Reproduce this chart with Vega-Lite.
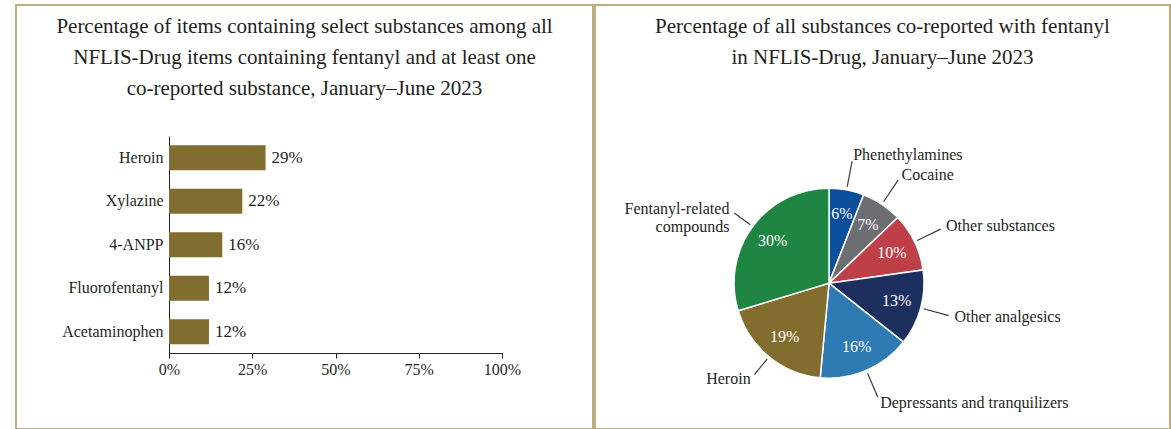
{
  "$schema": "https://vega.github.io/schema/vega-lite/v6.json",
  "padding": {"left": 15, "top": 4, "right": 4, "bottom": 1},
  "spacing": 0,
  "background": "white",
  "config": {
    "font": "Liberation Serif",
    "view": {"stroke": "#bcae80", "strokeWidth": 2},
    "title": {"font": "Liberation Serif", "fontSize": 21, "fontWeight": "normal", "color": "#231f20", "lineHeight": 31, "anchor": "middle", "frame": "group"},
    "axis": {"labelFont": "Liberation Serif", "labelFontSize": 16, "labelColor": "#231f20", "domainColor": "#231f20", "tickColor": "#231f20", "grid": false, "title": null}
  },
  "datasets": {
    "bars": [
      {"substance": "Heroin", "share": 0.29},
      {"substance": "Xylazine", "share": 0.22},
      {"substance": "4-ANPP", "share": 0.16},
      {"substance": "Fluorofentanyl", "share": 0.12},
      {"substance": "Acetaminophen", "share": 0.12}
    ],
    "pie": [
      {"substance": "Phenethylamines", "share": 0.06},
      {"substance": "Cocaine", "share": 0.07},
      {"substance": "Other substances", "share": 0.10},
      {"substance": "Other analgesics", "share": 0.13},
      {"substance": "Depressants and tranquilizers", "share": 0.16},
      {"substance": "Heroin", "share": 0.19},
      {"substance": "Fentanyl-related compounds", "share": 0.30}
    ]
  },
  "hconcat": [
    {
      "width": 577,
      "height": 424,
      "title": {"text": ["Percentage of items containing select substances among all", "NFLIS-Drug items containing fentanyl and at least one", "co-reported substance, January\u2013June 2023"], "offset": -94},
      "data": {"name": "bars"},
      "encoding": {
        "y": {"field": "substance", "type": "nominal", "sort": ["Heroin", "Xylazine", "4-ANPP", "Fluorofentanyl", "Acetaminophen"], "scale": {"range": [131, 348.5], "paddingInner": 0.42, "paddingOuter": 0.21}, "axis": {"offset": -153, "ticks": false, "labelPadding": 6}},
        "x": {"field": "share", "type": "quantitative", "scale": {"domain": [0, 1], "range": [153, 486]}, "axis": {"offset": -76, "values": [0, 0.25, 0.5, 0.75, 1], "format": ".0%", "labelFlush": false, "labelOverlap": false, "tickSize": 5, "labelPadding": 3}}
      },
      "layer": [
        {"mark": {"type": "bar", "color": "#816d2f"}},
        {"mark": {"type": "text", "align": "left", "baseline": "middle", "dx": 6, "fontSize": 17, "color": "#231f20"}, "encoding": {"text": {"field": "share", "format": ".0%"}}}
      ]
    },
    {
      "width": 575,
      "height": 424,
      "title": {"text": ["Percentage of all substances co-reported with fentanyl", "in NFLIS-Drug, January\u2013June 2023"], "offset": -63},
      "data": {"name": "pie"},
      "encoding": {
        "x": {"datum": 0.407, "type": "quantitative", "scale": {"domain": [0, 1]}, "axis": null},
        "y": {"datum": 0.344, "type": "quantitative", "scale": {"domain": [0, 1]}, "axis": null},
        "theta": {"field": "share", "type": "quantitative", "stack": true},
        "order": {"field": "share", "type": "quantitative", "sort": "ascending"},
        "detail": {"field": "substance", "type": "nominal"}
      },
      "layer": [
        {"mark": {"type": "arc", "radius": 95, "stroke": "white", "strokeWidth": 1.5},
         "encoding": {"color": {"field": "substance", "type": "nominal", "legend": null, "scale": {"domain": ["Phenethylamines", "Cocaine", "Other substances", "Other analgesics", "Depressants and tranquilizers", "Heroin", "Fentanyl-related compounds"], "range": ["#0b4e9b", "#6d6e71", "#be3f48", "#1d2f5f", "#2e7bb4", "#826d2e", "#1f8542"]}}}},
        {"mark": {"type": "arc", "radius": 124, "radius2": 98, "padAngle": 3, "filled": false, "stroke": "#3a3a3a", "strokeWidth": 1.2},
         "encoding": {"strokeOpacity": {"condition": {"test": "datum.share > 0.18", "value": 0}, "value": 1}}},
        {"mark": {"type": "arc", "radius": 118, "radius2": 98, "padAngle": 3, "filled": false, "stroke": "#3a3a3a", "strokeWidth": 1.2},
         "encoding": {"strokeOpacity": {"condition": {"test": "datum.share < 0.18", "value": 0}, "value": 1}}},
        {"mark": {"type": "text", "radius": 70, "fill": "white", "fontSize": 16}, "encoding": {"text": {"field": "share", "format": ".0%"}}},
        {"mark": {"type": "text", "radius": 130, "align": "left", "baseline": "middle", "fontSize": 16, "fill": "#231f20"},
         "encoding": {"text": {"field": "substance", "condition": {"test": "datum.share > 0.18", "value": ""}}}},
        {"mark": {"type": "text", "radius": 124, "align": "right", "baseline": "middle", "fontSize": 16, "fill": "#231f20", "lineBreak": " "},
         "encoding": {"text": {"field": "substance", "condition": {"test": "datum.share < 0.18", "value": ""}}}}
      ]
    }
  ]
}
